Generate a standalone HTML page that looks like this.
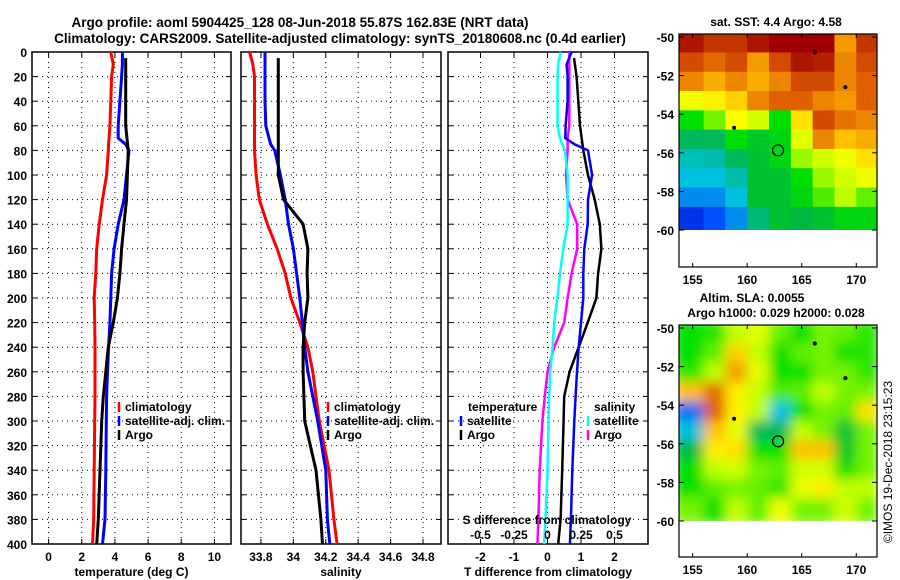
<!DOCTYPE html>
<html><head><meta charset="utf-8"><style>
html,body{margin:0;padding:0;background:#fff;}
svg{display:block;font-family:"Liberation Sans",Arial,sans-serif;font-weight:bold;font-size:12px;}
</style></head><body>
<svg id="chart" width="900" height="580" viewBox="0 0 900 580" xmlns="http://www.w3.org/2000/svg">
<text x="300" y="27" text-anchor="middle" font-size="13.5">Argo profile: aoml 5904425_128 08-Jun-2018 55.87S 162.83E (NRT data)</text>
<text x="340" y="43" text-anchor="middle" font-size="13.5">Climatology: CARS2009. Satellite-adjusted climatology: synTS_20180608.nc (0.4d earlier)</text>
<g id="g"></g>
</svg>
<script>
// ---------- data ----------
const depths=[0,10,20,40,60,70,75,80,100,120,140,160,180,200,220,240,260,280,300,340,380,400];
const tempClim=[3.75,3.9,3.8,3.75,3.7,3.65,3.62,3.6,3.5,3.25,3.05,2.9,2.85,2.75,2.78,2.8,2.8,2.8,2.78,2.75,2.72,2.65];
const tempSat=[4.45,4.45,4.4,4.3,4.2,4.2,4.65,4.85,4.7,4.55,4.2,3.95,3.8,3.75,3.7,3.62,3.55,3.5,3.48,3.45,3.4,3.25];
const argoDepths=[5,20,40,60,80,100,120,140,160,180,200,220,240,260,280,300,340,380,400];
const tempArgo=[4.65,4.65,4.65,4.65,4.8,4.75,4.7,4.55,4.4,4.3,4.15,3.9,3.6,3.45,3.3,3.2,3.1,3.0,2.9];
const salClim=[33.73,33.75,33.76,33.76,33.76,33.76,33.76,33.76,33.77,33.79,33.84,33.9,33.95,33.985,34.04,34.09,34.12,34.14,34.16,34.22,34.25,34.27];
const salSat=[33.825,33.825,33.825,33.825,33.83,33.85,33.86,33.885,33.92,33.95,33.97,34.0,34.02,34.04,34.055,34.07,34.09,34.12,34.15,34.2,34.21,34.225];
const salArgo=[33.907,33.907,33.907,33.907,33.907,33.907,33.94,34.06,34.09,34.085,34.09,34.07,34.06,34.06,34.065,34.07,34.14,34.17,34.18];
const dTsat=[0.72,0.57,0.6,0.6,0.54,0.53,0.81,1.21,1.33,1.21,1.2,1.1,1.07,1.07,1.0,0.93,0.88,0.84,0.8,0.74,0.7,0.67];
const dTargo=[0.79,0.87,0.92,0.97,1.07,1.21,1.41,1.56,1.61,1.51,1.46,1.2,0.93,0.66,0.5,0.48,0.44,0.39,0.32];
const dSsat=[0.098,0.08,0.075,0.075,0.075,0.093,0.11,0.13,0.15,0.15,0.15,0.118,0.093,0.073,0.05,0.038,0.02,0.012,0.008,0,-0.015,-0.025];
const dSargo=[0.163,0.163,0.163,0.163,0.163,0.15,0.15,0.15,0.138,0.15,0.222,0.222,0.18,0.15,0.125,0.05,0,-0.02,-0.038,-0.058,-0.068,-0.075];
const tempTicks=[0,2,4,6,8,10];
const salTicks=[33.8,34,34.2,34.4,34.6,34.8];
const dTTicks=[-2,-1,0,1,2];
const dSTicks=[-0.5,-0.25,0,0.25,0.5];
const depthTicks=[0,20,40,60,80,100,120,140,160,180,200,220,240,260,280,300,320,340,360,380,400];
const latTicks=[-50,-52,-54,-56,-58,-60];
const lonTicks=[155,160,165,170];
// SST grid rows -50..-60 (1deg), cols 154..172 (2deg), colour index 0..1
const sstGrid=[
[.93,.9,.9,.93,.95,.95,.95,.8,.9],
[.88,.85,.88,.8,.88,.93,.92,.82,.88],
[.82,.78,.82,.78,.82,.88,.88,.82,.86],
[.66,.7,.74,.82,.86,.86,.82,.8,.86],
[.5,.56,.68,.62,.5,.72,.88,.84,.82],
[.4,.4,.5,.45,.48,.64,.82,.76,.78],
[.33,.34,.4,.44,.48,.58,.62,.66,.72],
[.3,.3,.34,.44,.44,.5,.58,.62,.66],
[.24,.24,.3,.44,.44,.48,.54,.6,.55],
[.12,.17,.24,.38,.44,.42,.44,.48,.48]];
const slaGrid=[
[.5,.52,.6,.64,.55,.5,.56,.55,.52],
[.5,.55,.74,.6,.5,.55,.56,.5,.52],
[.52,.6,.8,.65,.5,.5,.56,.56,.52],
[.76,.85,.7,.6,.54,.55,.6,.56,.56],
[.2,.86,.7,.6,.3,.5,.56,.55,.72],
[.3,.76,.65,.4,.4,.6,.56,.44,.56],
[.42,.7,.72,.5,.5,.76,.76,.45,.56],
[.5,.6,.62,.56,.55,.62,.62,.5,.56],
[.5,.55,.56,.55,.52,.66,.7,.6,.6],
[.56,.5,.6,.55,.66,.56,.56,.62,.56]];
const floatLon=[162.83], floatLat=[-55.87];
const otherLon=[166.2,169.0,158.8], otherLat=[-50.8,-52.6,-54.7];

// ---------- helpers ----------
const NS="http://www.w3.org/2000/svg";
const G=document.getElementById('g');
function el(t,a,p){const e=document.createElementNS(NS,t);for(const k in a)e.setAttribute(k,a[k]);(p||G).appendChild(e);return e;}
function txt(x,y,s,anchor,p){const e=el('text',{x:x,y:y,'text-anchor':anchor||'middle'},p);e.textContent=s;return e;}
const yD=d=>52+d*1.23;
function lin(d0,d1,r0,r1){return v=>r0+(v-d0)*(r1-r0)/(d1-d0);}
const TOP=52,BOT=544;
function panel(name,x0,x1,xs,ticks,labels,title,showY){
  const g=el('g',{});
  
  
  depthTicks.forEach(d=>{
    if(d>0&&d<400){const l=el('line',{x1:x0,x2:x1,y1:yD(d),y2:yD(d),stroke:'#000','stroke-dasharray':'1,4','stroke-width':1},g);}
    el('line',{x1:x0,x2:x0+5,y1:yD(d),y2:yD(d),stroke:'#000'},g);
    el('line',{x1:x1-5,x2:x1,y1:yD(d),y2:yD(d),stroke:'#000'},g);
    if(showY){const t=txt(27,yD(d)+5,String(d),'end',g);}
  });
  ticks.forEach((v,i)=>{const x=xs(v);
    const l=el('line',{x1:x,x2:x,y1:TOP,y2:BOT,stroke:'#000','stroke-dasharray':'1,4'},g);
    
    el('line',{x1:x,x2:x,y1:TOP,y2:TOP+5,stroke:'#000'},g);
    el('line',{x1:x,x2:x,y1:BOT-5,y2:BOT,stroke:'#000'},g);
    const t=txt(x,561,labels[i],'middle',g);
  });
  const b=el('rect',{x:x0,y:TOP,width:x1-x0,height:BOT-TOP,fill:'none',stroke:'#000','stroke-width':1.5},g);
  
  const tt=txt((x0+x1)/2,576,title,'middle',g);
  return g;
}
function line(name,xs,vals,ds,color,w){
  const pts=vals.map((v,i)=>xs(v).toFixed(1)+','+yD(ds[i]).toFixed(1)).join(' ');
  const p=el('polyline',{points:pts,fill:'none',stroke:color,'stroke-width':w,'stroke-linejoin':'round'});
  
  
}
function legend(x,y,color,label,name){
  const g=el('g',{});
  
  
  if(color)el('line',{x1:x,x2:x,y1:y-9,y2:y+1,stroke:color,'stroke-width':2.5},g);
  txt(x+6,y,label,'start',g);
}
// ---------- panel 1: temperature ----------
const xT=lin(-1,11,32,231);
panel('temperature-panel',32,231,xT,tempTicks,tempTicks.map(String),'temperature (deg C)',true);
line('temp-climatology-line',xT,tempClim,depths,'#f00',3);
line('temp-satellite-line',xT,tempSat,depths,'#00f',3);
line('temp-argo-line',xT,tempArgo,argoDepths,'#000',3);
legend(119,411,'#f00','climatology','legend-climatology');
legend(119,425,'#00f','satellite-adj. clim.','legend-satellite');
legend(119,439,'#000','Argo','legend-argo');
// ---------- panel 2: salinity ----------
const xS=lin(33.677,34.911,241,441);
panel('salinity-panel',241,441,xS,salTicks,['33.8','34','34.2','34.4','34.6','34.8'],'salinity',false);
line('sal-climatology-line',xS,salClim,depths,'#f00',3);
line('sal-satellite-line',xS,salSat,depths,'#00f',3);
line('sal-argo-line',xS,salArgo,argoDepths,'#000',3);
legend(328,411,'#f00','climatology','legend-sal-climatology');
legend(328,425,'#00f','satellite-adj. clim.','legend-sal-satellite');
legend(328,439,'#000','Argo','legend-sal-argo');
// ---------- panel 3: differences ----------
const xdT=lin(-2.97,3,448,648);
const xdS=v=>xdT(v*4);
panel('difference-panel',448,648,xdT,dTTicks,dTTicks.map(String),'T difference from climatology',false);
line('dS-argo-line',xdS,dSargo,depths,'#f0f',2.5);
line('dS-satellite-line',xdS,dSsat,depths,'#0ff',2.5);
line('dT-argo-line',xdT,dTargo,argoDepths,'#000',2.5);
line('dT-satellite-line',xdT,dTsat,depths,'#00f',2.5);
{const t=txt(468,411,'temperature','start');}
legend(461,425,'#00f','satellite','legend-t-satellite');
legend(461,439,'#000','Argo','legend-t-argo');
{const t=txt(594,411,'salinity','start');}
legend(588,425,'#0ff','satellite','legend-s-satellite');
legend(588,439,'#f0f','Argo','legend-s-argo');
{const t=txt(547,524,'S difference from climatology','middle');}
dSTicks.forEach(v=>{const t=txt(xdS(v),539,String(v),'middle');
  
  });
// ---------- maps ----------
const stops=[[0,[0,0,140]],[.15,[0,64,255]],[.3,[0,192,224]],[.42,[0,184,64]],[.5,[0,224,0]],[.6,[192,255,0]],[.68,[255,255,0]],[.76,[255,192,0]],[.86,[224,96,0]],[.95,[160,0,0]],[1,[150,0,0]]];
function cmap(v){for(let i=1;i<stops.length;i++){if(v<=stops[i][0]){const a=stops[i-1],b=stops[i],f=(v-a[0])/(b[0]-a[0]);return 'rgb('+a[1].map((c,k)=>Math.round(c+(b[1][k]-c)*f)).join(',')+')';}}return 'rgb(150,0,0)';}
function map(name,top,bot,grid,blur,titleLines){
  const xL=lin(153.75,171.9,679,877);
  const lat0=top+3, yL=lin(-50,-60,lat0,lat0+193);
  const g=el('g',{});
  
  
  const cid=name+'-clip';
  const cp=el('clipPath',{id:cid},g);
  el('rect',{x:679,y:top,width:198,height:yL(-60)-top},cp);
  const cells=el('g',{'clip-path':'url(#'+cid+')'},g);
  const inner=el('g',blur?{filter:'url(#blur)'}:{},cells);
  grid.forEach((row,r)=>row.forEach((v,c)=>{
    const lon=154+c*2, la=-49.8-r*1;
    const x=xL(lon), y=r===0?top-6:yL(la);
    const rc=el('rect',{x:c===0?x-8:x,y:y,width:xL(lon+2)-x+(c===0?8:0)+1,height:yL(la-1)-y+1+(r===9?6:0),fill:cmap(v)},inner);
    
    
  }));
  // white below -60 already background
  el('rect',{x:679,y:yL(-60),width:198,height:bot-yL(-60),fill:'#fff'},g);
  otherLon.forEach((lo,i)=>{const m=el('circle',{cx:xL(lo),cy:yL(otherLat[i]),r:2,fill:'#000'},g);
    });
  floatLon.forEach((lo,i)=>{const m=el('circle',{cx:xL(lo),cy:yL(floatLat[i]),r:5.5,fill:'none',stroke:'#000','stroke-width':1.2},g);
    });
  el('rect',{x:679,y:top,width:198,height:bot-top,fill:'none',stroke:'#000','stroke-width':1.2},g);
  latTicks.forEach(l=>{const y=yL(l);
    el('line',{x1:679,x2:684,y1:y,y2:y,stroke:'#000'},g);el('line',{x1:872,x2:877,y1:y,y2:y,stroke:'#000'},g);
    const t=txt(674,y+5,String(l),'end',g);});
  lonTicks.forEach(l=>{const x=xL(l);
    el('line',{x1:x,x2:x,y1:top,y2:top+4,stroke:'#000'},g);el('line',{x1:x,x2:x,y1:bot-4,y2:bot,stroke:'#000'},g);
    const t=txt(x,bot+17,String(l),'middle',g);});
  titleLines.forEach((s,i)=>{const t=txt(s[1],s[2],s[0],'middle',g);});
}
const defs=el('defs',{});
const f=el('filter',{id:'blur',x:'-5%',y:'-5%',width:'110%',height:'110%'},defs);
el('feGaussianBlur',{stdDeviation:6},f);
map('sst-map',34,267,sstGrid,false,[['sat. SST: 4.4 Argo: 4.58',776,26]]);
map('sla-map',325,557,slaGrid,true,[['Altim. SLA: 0.0055',752,302],['Argo h1000: 0.029 h2000: 0.028',776,317]]);
{const t=el('text',{x:0,y:0,transform:'translate(892,462) rotate(-90)','text-anchor':'middle','font-weight':'normal','font-size':'12'});t.textContent='©IMOS 19-Dec-2018 23:15:23';

}
</script>
</body></html>
